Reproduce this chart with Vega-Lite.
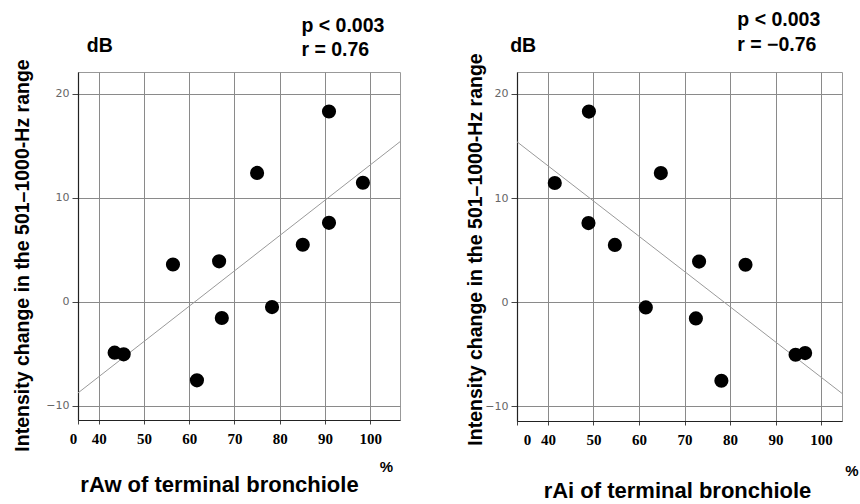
{
  "$schema": "https://vega.github.io/schema/vega-lite/v6.json",
  "autosize": {"type": "pad"},
  "padding": {"left": 11, "top": 9, "right": 0, "bottom": 0},
  "bounds": "flush",
  "spacing": 117,
  "background": "white",
  "config": {
    "font": "Liberation Sans",
    "view": {"stroke": "#999", "strokeWidth": 1},
    "axis": {
      "gridColor": "#8a8a8a",
      "gridOpacity": 1,
      "gridWidth": 1,
      "domainColor": "#222",
      "domainWidth": 1.2,
      "tickColor": "#444",
      "labelOverlap": false,
      "labelFlush": false
    },
    "axisX": {
      "tickSize": 4,
      "labelFont": "Liberation Serif",
      "labelFontWeight": "bold",
      "labelFontSize": 15,
      "labelColor": "#000",
      "labelPadding": 7,
      "titleFont": "Liberation Sans",
      "titleFontWeight": "bold",
      "titleFontSize": 22,
      "titleColor": "#000",
      "titleBaseline": "middle",
      "titleAlign": "center",
      "titleAnchor": "start"
    },
    "axisY": {
      "tickSize": 6,
      "labelFont": "DejaVu Sans",
      "labelFontSize": 11,
      "labelColor": "#666",
      "labelPadding": 3,
      "titleFont": "Liberation Sans",
      "titleFontWeight": "bold",
      "titleFontSize": 19.5,
      "titleColor": "#000",
      "titleAngle": -90,
      "titleBaseline": "middle",
      "titleAlign": "center",
      "titleAnchor": "start"
    }
  },
  "datasets": {
    "ptsL": [
      {"x": 43.5, "y": -4.88}, {"x": 45.5, "y": -5.04}, {"x": 56.4, "y": 3.6},
      {"x": 66.6, "y": 3.9}, {"x": 67.2, "y": -1.55}, {"x": 61.7, "y": -7.54},
      {"x": 75.0, "y": 12.4}, {"x": 78.3, "y": -0.5}, {"x": 85.1, "y": 5.5},
      {"x": 90.9, "y": 7.6}, {"x": 90.9, "y": 18.3}, {"x": 98.4, "y": 11.45}
    ],
    "ptsR": [
      {"x": 41.5, "y": 11.45}, {"x": 49.0, "y": 18.3}, {"x": 48.9, "y": 7.6},
      {"x": 54.7, "y": 5.5}, {"x": 64.8, "y": 12.4}, {"x": 61.5, "y": -0.5},
      {"x": 73.2, "y": 3.9}, {"x": 72.5, "y": -1.55}, {"x": 83.4, "y": 3.6},
      {"x": 78.1, "y": -7.54}, {"x": 94.4, "y": -5.04}, {"x": 96.5, "y": -4.88}
    ],
    "lineL": [{"x": 35.4, "y": -8.75}, {"x": 106.6, "y": 15.4}],
    "lineR": [{"x": 33.2, "y": 15.4}, {"x": 104.6, "y": -8.75}],
    "textL": [
      {"x": 37.35, "y": 24.6, "label": "dB"},
      {"x": 84.8, "y": 26.5, "label": "p < 0.003"},
      {"x": 84.8, "y": 24.2, "label": "r = 0.76"}
    ],
    "textR": [
      {"x": 31.7, "y": 24.6, "label": "dB"},
      {"x": 81.6, "y": 27.1, "label": "p < 0.003"},
      {"x": 81.6, "y": 24.7, "label": "r = −0.76"}
    ],
    "pctL": [{"x": 102.1, "y": -15.9, "label": "%"}],
    "pctR": [{"x": 105.3, "y": -16.2, "label": "%"}]
  },
  "hconcat": [
    {
      "width": 322,
      "height": 348,
      "encoding": {
        "x": {
          "field": "x", "type": "quantitative",
          "scale": {"domain": [35.4, 106.6], "nice": false, "zero": false},
          "axis": {
            "values": [35.4, 40, 50, 60, 70, 80, 90, 100],
            "labelExpr": "datum.value < 38 ? '0' : datum.label",
            "labelOffset": {"condition": {"test": "datum.value < 38", "value": -5}, "value": 0},
            "title": "rAw of terminal bronchiole",
            "titleX": 141,
            "titleY": 64
          }
        },
        "y": {
          "field": "y", "type": "quantitative",
          "scale": {"domain": [-11.35, 22.1], "nice": false, "zero": false},
          "axis": {
            "values": [-10, 0, 10, 20],
            "title": "Intensity change in the 501–1000-Hz range",
            "titleX": -56,
            "titleY": 183
          }
        }
      },
      "layer": [
        {"data": {"name": "lineL"}, "mark": {"type": "line", "color": "#9a9a9a", "strokeWidth": 1, "clip": true}},
        {"data": {"name": "ptsL"}, "mark": {"type": "circle", "size": 200, "color": "#000", "opacity": 1}},
        {"data": {"name": "textL"}, "mark": {"type": "text", "align": "left", "baseline": "middle", "fontSize": 19.5, "fontWeight": "bold", "color": "#000"}, "encoding": {"text": {"field": "label"}}},
        {"data": {"name": "pctL"}, "mark": {"type": "text", "align": "left", "baseline": "middle", "fontSize": 15, "fontWeight": "bold", "color": "#000"}, "encoding": {"text": {"field": "label"}}}
      ]
    },
    {
      "width": 325,
      "height": 349,
      "encoding": {
        "x": {
          "field": "x", "type": "quantitative",
          "scale": {"domain": [33.2, 104.6], "nice": false, "zero": false},
          "axis": {
            "values": [33.2, 40, 50, 60, 70, 80, 90, 100],
            "labelExpr": "datum.value < 38 ? '0' : datum.label",
            "labelOffset": {"condition": {"test": "datum.value < 38", "value": 10}, "value": 0},
            "title": "rAi of terminal bronchiole",
            "titleX": 160,
            "titleY": 69
          }
        },
        "y": {
          "field": "y", "type": "quantitative",
          "scale": {"domain": [-11.4, 22.1], "nice": false, "zero": false},
          "axis": {
            "values": [-10, 0, 10, 20],
            "title": "Intensity change in the 501–1000-Hz range",
            "titleX": -42,
            "titleY": 177
          }
        }
      },
      "layer": [
        {"data": {"name": "lineR"}, "mark": {"type": "line", "color": "#9a9a9a", "strokeWidth": 1, "clip": true}},
        {"data": {"name": "ptsR"}, "mark": {"type": "circle", "size": 200, "color": "#000", "opacity": 1}},
        {"data": {"name": "textR"}, "mark": {"type": "text", "align": "left", "baseline": "middle", "fontSize": 19.5, "fontWeight": "bold", "color": "#000"}, "encoding": {"text": {"field": "label"}}},
        {"data": {"name": "pctR"}, "mark": {"type": "text", "align": "left", "baseline": "middle", "fontSize": 15, "fontWeight": "bold", "color": "#000"}, "encoding": {"text": {"field": "label"}}}
      ]
    }
  ]
}
